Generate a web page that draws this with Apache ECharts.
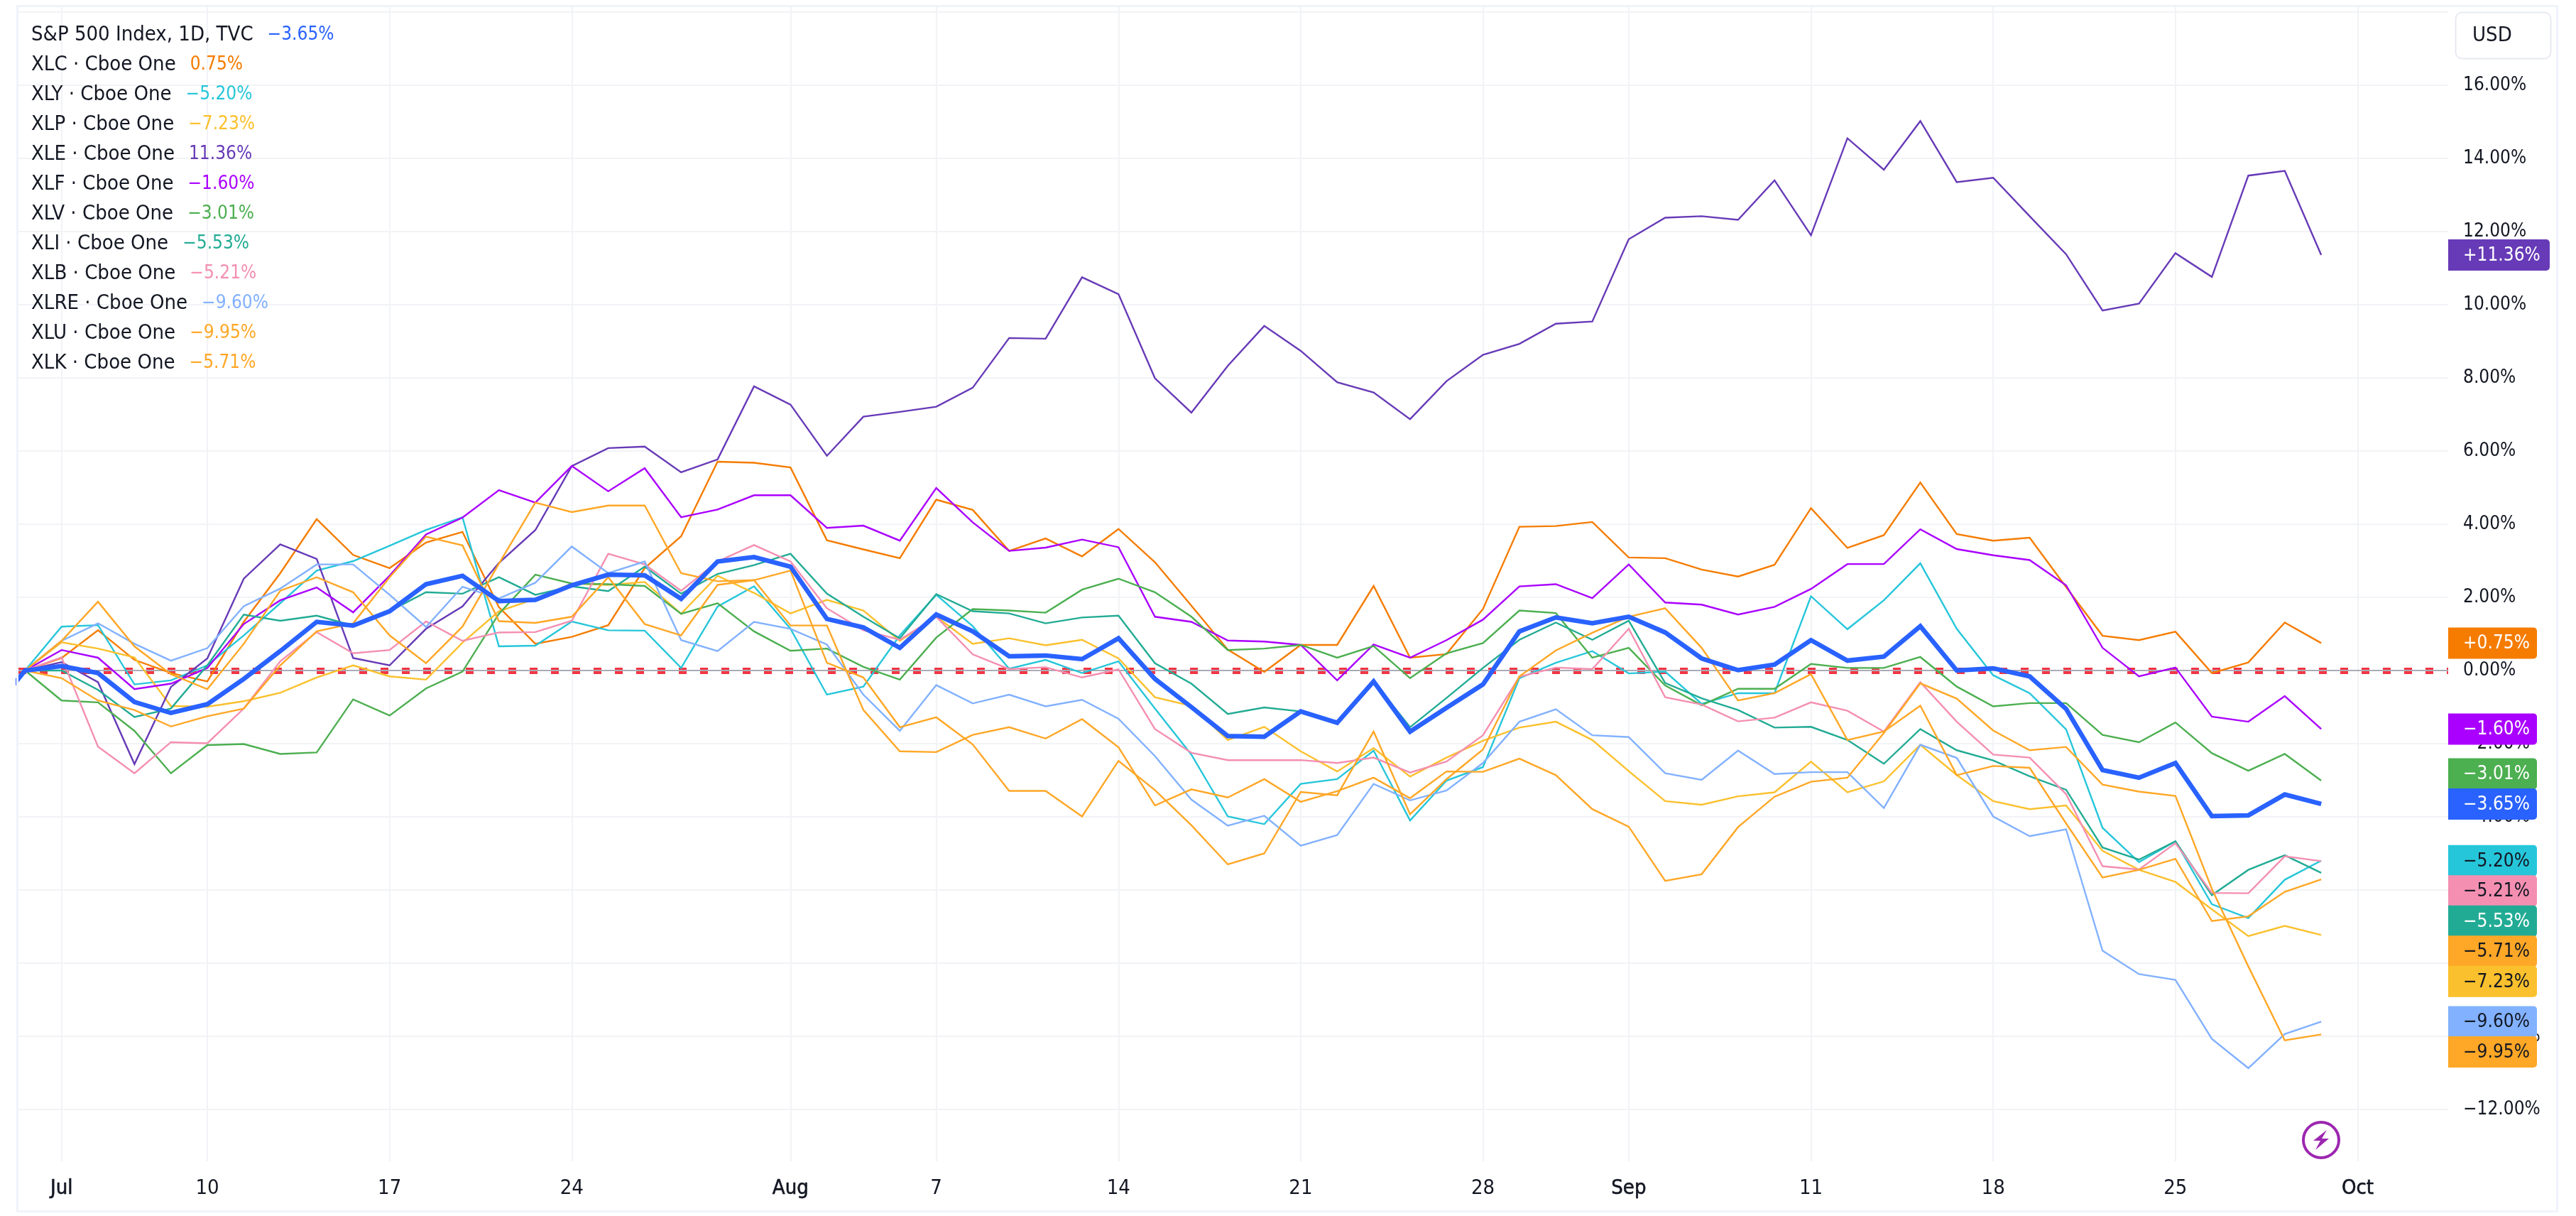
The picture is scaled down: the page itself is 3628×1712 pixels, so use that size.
<!DOCTYPE html>
<html>
<head>
<meta charset="utf-8">
<title>S&amp;P 500 and sector ETFs</title>
<style>html,body{margin:0;padding:0;background:#fff}#c{width:3628px;height:1712px}</style>
<script src="https://cdn.jsdelivr.net/npm/echarts@6/dist/echarts.min.js"></script>
</head>
<body>
<div id="c"></div>
<script>
const FONT = '"DejaVu Sans Condensed", "DejaVu Sans", sans-serif';

// Trading days; index in this list is the position on the x axis.
const tradingDays = ['Jun 29','Jun 30','Jul 3','Jul 5','Jul 6','Jul 7',
 'Jul 10','Jul 11','Jul 12','Jul 13','Jul 14','Jul 17','Jul 18','Jul 19','Jul 20','Jul 21',
 'Jul 24','Jul 25','Jul 26','Jul 27','Jul 28','Jul 31','Aug 1','Aug 2','Aug 3','Aug 4',
 'Aug 7','Aug 8','Aug 9','Aug 10','Aug 11','Aug 14','Aug 15','Aug 16','Aug 17','Aug 18',
 'Aug 21','Aug 22','Aug 23','Aug 24','Aug 25','Aug 28','Aug 29','Aug 30','Aug 31','Sep 1',
 'Sep 5','Sep 6','Sep 7','Sep 8','Sep 11','Sep 12','Sep 13','Sep 14','Sep 15',
 'Sep 18','Sep 19','Sep 20','Sep 21','Sep 22','Sep 25','Sep 26','Sep 27','Sep 28','Sep 29','Oct 2'];
const tickDates  = ['Jul 3','Jul 10','Jul 17','Jul 24','Aug 1','Aug 7','Aug 14','Aug 21','Aug 28','Sep 1','Sep 11','Sep 18','Sep 25','Oct 2'];
const tickLabels = ['Jul','10','17','24','Aug','7','14','21','28','Sep','11','18','25','Oct'];
const yGrid = [18,16,14,12,10,8,6,4,2,0,-2,-4,-6,-8,-10,-12];
const yTicks = [16,14,12,10,8,6,4,2,0,-2,-4,-6,-8,-10,-12];

// Percent change from Jun 30 (S&P also has Jun 29, just left of the visible range).
const spx = [-1.22,0,.12,-.07,-.86,-1.16,-.92,-.23,.53,1.33,1.23,1.62,2.36,2.59,1.90,1.93,2.33,2.62,2.60,1.96,2.98,3.10,2.84,1.41,1.18,.62,1.53,1.07,.39,.41,.31,.88,-.23,-1.0,-1.79,-1.81,-1.12,-1.43,-.30,-1.67,-1.02,-.38,1.07,1.45,1.29,1.47,1.04,.33,.01,.16,.83,.27,.38,1.21,0,.06,-.16,-1.05,-2.72,-2.93,-2.53,-3.98,-3.96,-3.39,-3.65];
const xlc = [0,.34,1.10,.29,-.07,-.30,1.33,2.66,4.14,3.16,2.80,3.50,3.79,1.73,.73,.92,1.24,2.80,3.67,5.71,5.68,5.55,3.56,3.31,3.07,4.67,4.39,3.27,3.61,3.12,3.87,2.96,1.77,.57,-.04,.70,.70,2.31,.35,.45,1.68,3.93,3.95,4.06,3.09,3.07,2.76,2.57,2.89,4.44,3.35,3.70,5.14,3.73,3.55,3.63,2.28,.95,.83,1.06,-.07,.22,1.31,.75];
const xly = [0,1.20,1.24,-.38,-.27,.14,.96,1.84,2.73,2.99,3.41,3.84,4.19,.66,.68,1.34,1.10,1.09,.07,1.75,2.30,1.14,-.66,-.44,.96,2.07,1.21,.05,.29,-.07,.25,-1.04,-2.30,-3.99,-4.20,-3.10,-2.97,-2.19,-4.10,-3.01,-2.64,-.21,.21,.53,-.08,-.03,-.91,-.62,-.62,2.03,1.13,1.92,2.93,1.14,-.13,-.62,-1.61,-4.30,-5.24,-4.67,-6.39,-6.77,-5.72,-5.20];
const xlp = [0,.77,.60,.36,-.97,-.99,-.84,-.61,-.19,.14,-.16,-.25,.76,1.62,1.96,2.38,2.34,2.42,1.55,2.59,2.12,1.56,1.93,1.64,.81,1.47,.73,.88,.69,.84,.33,-.73,-.97,-1.90,-1.54,-2.21,-2.76,-2.12,-2.90,-2.38,-1.92,-1.56,-1.40,-1.90,-2.75,-3.57,-3.67,-3.44,-3.33,-2.49,-3.33,-3.03,-2.03,-2.86,-3.57,-3.79,-3.69,-4.93,-5.45,-5.78,-6.53,-7.26,-6.98,-7.23];
const xle = [0,.23,-.32,-2.56,-.45,.33,2.51,3.45,3.05,.34,.14,1.14,1.75,2.94,3.84,5.59,6.08,6.12,5.42,5.77,7.77,7.27,5.87,6.94,7.07,7.21,7.73,9.09,9.07,10.75,10.29,7.99,7.05,8.33,9.42,8.74,7.88,7.60,6.87,7.91,8.63,8.93,9.48,9.54,11.79,12.38,12.42,12.32,13.40,11.90,14.55,13.69,15.02,13.35,13.47,12.42,11.38,9.84,10.03,11.41,10.76,13.53,13.66,11.36];
const xlf = [0,.56,.35,-.51,-.36,.07,1.27,1.92,2.27,1.59,2.59,3.72,4.18,4.93,4.59,5.59,4.90,5.53,4.19,4.40,4.79,4.79,3.90,3.96,3.55,4.99,4.05,3.27,3.36,3.58,3.37,1.47,1.33,.82,.79,.70,-.27,.71,.35,.83,1.39,2.30,2.36,1.98,2.90,1.86,1.80,1.53,1.74,2.23,2.91,2.91,3.86,3.32,3.15,3.02,2.33,.62,-.16,.08,-1.26,-1.40,-.70,-1.60];
const xlv = [0,-.82,-.87,-1.65,-2.81,-2.04,-2.01,-2.28,-2.24,-.79,-1.23,-.49,-.03,1.55,2.62,2.38,2.36,2.31,1.55,1.84,1.07,.54,.60,.10,-.25,.90,1.68,1.64,1.58,2.21,2.51,2.14,1.47,.56,.60,.70,.35,.67,-.21,.47,.75,1.64,1.57,.35,.62,-.41,-.95,-.50,-.50,.18,.07,.07,.37,-.44,-.98,-.89,-.89,-1.76,-1.96,-1.42,-2.26,-2.74,-2.28,-3.01];
const xli = [0,0,-.53,-1.27,-1.04,.14,1.53,1.36,1.50,1.23,1.62,2.14,2.10,2.55,2.07,2.30,2.17,2.84,2.10,2.64,2.88,3.19,2.10,1.47,.88,2.09,1.62,1.56,1.29,1.45,1.50,.20,-.36,-1.19,-1.01,-1.12,-1.43,-.30,-1.55,-.75,.07,.84,1.31,.84,1.36,-.34,-.76,-1.08,-1.56,-1.54,-1.90,-2.55,-1.60,-2.18,-2.46,-2.89,-3.26,-4.84,-5.17,-4.67,-6.14,-5.45,-5.05,-5.53];
const xlb = [0,.36,-2.08,-2.81,-1.96,-1.99,-1.04,.25,1.05,.47,.56,1.34,.81,1.04,1.05,1.36,3.19,2.90,2.18,2.98,3.43,2.98,1.70,1.10,.84,1.47,.44,.04,.09,-.19,.03,-1.60,-2.25,-2.45,-2.45,-2.45,-2.53,-2.38,-2.79,-2.49,-1.77,-.17,.08,.04,1.14,-.73,-.93,-1.39,-1.29,-.87,-1.10,-1.67,-.32,-1.40,-2.30,-2.38,-3.38,-5.35,-5.44,-4.72,-6.08,-6.09,-5.08,-5.21];
const xlre = [0,.81,1.29,.73,.27,.61,1.76,2.24,2.90,2.90,2.07,1.19,2.29,1.97,2.40,3.39,2.66,2.98,.83,.53,1.33,1.14,.71,-.66,-1.65,-.40,-.90,-.66,-.98,-.80,-1.32,-2.34,-3.53,-4.24,-3.97,-4.79,-4.50,-3.10,-3.55,-3.28,-2.53,-1.40,-1.06,-1.77,-1.82,-2.81,-2.99,-2.19,-2.83,-2.78,-2.78,-3.76,-2.03,-2.39,-3.99,-4.53,-4.34,-7.66,-8.30,-8.46,-10.07,-10.87,-9.94,-9.60];
const xlu = [0,.81,1.88,.66,-.10,-.51,.73,2.18,2.55,2.14,.96,.20,1.20,2.92,4.59,4.33,4.51,4.51,2.66,2.44,2.47,1.23,1.23,-1.08,-2.21,-2.23,-1.76,-1.55,-1.86,-1.33,-2.10,-3.69,-3.25,-3.47,-2.97,-3.59,-3.30,-2.93,-3.49,-2.76,-2.77,-2.41,-2.86,-3.79,-4.27,-5.75,-5.57,-4.28,-3.45,-3.04,-2.93,-1.71,-.35,-.77,-1.64,-2.18,-2.09,-3.12,-3.31,-3.43,-5.97,-8.09,-10.11,-9.95];
const xlk = [0,-.21,-.82,-1.08,-1.53,-1.25,-1.04,.14,1.07,1.29,2.55,3.66,3.42,1.35,1.30,1.47,2.55,1.27,.96,2.34,2.47,2.73,.21,-.19,-1.55,-1.28,-2.02,-3.29,-3.29,-3.99,-2.47,-3.27,-4.23,-5.30,-5.00,-3.32,-3.41,-1.67,-3.93,-2.97,-2.16,-.16,.55,1.03,1.47,1.70,.62,-.82,-.62,-.10,-1.90,-1.67,-.96,-2.86,-2.61,-2.66,-4.18,-5.66,-5.45,-5.15,-6.85,-6.72,-6.05,-5.71];

const names = ['XLC · Cboe One','XLY · Cboe One','XLP · Cboe One','XLE · Cboe One','XLF · Cboe One','XLV · Cboe One','XLI · Cboe One','XLB · Cboe One','XLRE · Cboe One','XLU · Cboe One','XLK · Cboe One'];
const sectorValues = [xlc,xly,xlp,xle,xlf,xlv,xli,xlb,xlre,xlu,xlk];
const sectorColors = ['#F57C00','#26C6DA','#FBC02D','#673AB7','#AA00FF','#4CAF50','#22AB94','#F48FB1','#82B1FF','#FFA726','#FFA726'];
const sectorLast = [0.75,-5.20,-7.23,11.36,-1.60,-3.01,-5.53,-5.21,-9.60,-9.95,-5.71];
const sectorTagText = ['#FFFFFF','#131722','#131722','#FFFFFF','#FFFFFF','#FFFFFF','#FFFFFF','#131722','#131722','#131722','#131722'];
const spxName = 'S&P 500 Index, 1D, TVC', spxColor = '#2962FF', spxLast = -3.65;

const NUM = 26, NAME = 29;
const minus = s => s.replace('-', '\u2212');
const pct = v => minus(v.toFixed(2)) + '%';
const signed = v => (v > 0 ? '+' : '') + pct(v);

const chart = echarts.init(document.getElementById('c'));
const dayIdx = d => tradingDays.indexOf(d);
const allNames = [spxName].concat(names);
const allColors = [spxColor].concat(sectorColors);
const allLast = [spxLast].concat(sectorLast);

const rich = { n: { fontFamily: FONT, fontSize: NAME, color: '#131722', lineHeight: 32 } };
allColors.forEach((c, i) => {
  rich['v' + i] = { fontFamily: FONT, fontSize: NUM, color: c, lineHeight: 32, padding: [0, 0, 0, 20] };
});

const series = [{
  name: 'zero', type: 'line', data: [], silent: true,
  markLine: {
    silent: true, symbol: 'none', z: 1, animation: false, label: { show: false },
    data: [
      { yAxis: 0, lineStyle: { color: '#F23645', width: 9, type: [11, 19], cap: 'butt' } },
      { yAxis: 0, lineStyle: { color: '#A9ACB7', width: 2, type: 'solid' } }
    ]
  }
}];
names.forEach((n, i) => series.push({
  name: n, type: 'line', showSymbol: false, clip: true, z: 2, silent: true,
  lineStyle: { color: sectorColors[i], width: 2.4, join: 'miter' },
  itemStyle: { color: sectorColors[i] },
  data: sectorValues[i].map((v, k) => [k + 1, v])
}));
series.push({
  name: spxName, type: 'line', showSymbol: false, clip: true, z: 3, silent: true,
  lineStyle: { color: spxColor, width: 6.5, join: 'miter' },
  itemStyle: { color: spxColor },
  data: spx.map((v, k) => [k, v])
});

const L = 26, R = 3448, T = 8, B = 1635;
chart.setOption({
  animation: false,
  backgroundColor: '#FFFFFF',
  textStyle: { fontFamily: FONT },
  grid: { left: L, top: T, width: R - L, height: B - T, containLabel: false },
  legend: {
    data: allNames, orient: 'vertical', left: 33, top: 28, itemGap: 10,
    itemWidth: 0, itemHeight: 0, selectedMode: false,
    itemStyle: { opacity: 0 }, lineStyle: { opacity: 0 },
    formatter: name => {
      const i = allNames.indexOf(name);
      return '{n|' + name + '}{v' + i + '|' + pct(allLast[i]) + '}';
    },
    textStyle: { rich, fontFamily: FONT, fontSize: NAME, color: '#131722', lineHeight: 32 }
  },
  xAxis: {
    type: 'value', min: (L - 86.7) / 51.33 + 2, max: (R - 86.7) / 51.33 + 2,
    axisLine: { show: false },
    axisTick: { show: false, customValues: tickDates.map(dayIdx) },
    axisLabel: {
      customValues: tickDates.map(dayIdx), margin: 24, hideOverlap: false,
      formatter: v => {
        const t = tickLabels[tickDates.indexOf(tradingDays[Math.round(v)])];
        return /^[A-Z]/.test(t) ? '{m|' + t + '}' : t;
      },
      color: '#131722', fontFamily: FONT, fontSize: NAME,
      rich: { m: { fontFamily: FONT, fontSize: NAME, color: '#131722', textBorderColor: '#131722', textBorderWidth: 0.6 } }
    },
    splitLine: { show: true, lineStyle: { color: '#F2F3F6', width: 2 } }
  },
  yAxis: {
    type: 'value', position: 'right', min: (944 - B) / 51.5, max: (944 - T) / 51.5,
    axisLine: { show: false },
    axisTick: { show: false, customValues: yGrid },
    axisLabel: {
      customValues: yTicks, margin: 21, hideOverlap: false, padding: [4, 0, 0, 0],
      formatter: v => pct(v), color: '#131722', fontFamily: FONT, fontSize: NUM
    },
    splitLine: { show: true, lineStyle: { color: '#F2F3F6', width: 2 } }
  },
  series
});

// Value tags on the price scale: the S&P tag sits at its value, the others are pushed clear of it.
const tagH = 44, step = 42.5;
const toY = v => chart.convertToPixel({ yAxisIndex: 0 }, v);
const tags = allLast.map((v, i) => ({ v, i, y: toY(v) }));
const anchor = tags[0];
const above = tags.filter(t => t.v > anchor.v).sort((a, b) => a.v - b.v);
const below = tags.filter(t => t.v < anchor.v).sort((a, b) => b.v - a.v);
let prev = anchor.y;
above.forEach(t => { t.y = Math.min(t.y, prev - step); prev = t.y; });
prev = anchor.y;
below.forEach(t => { t.y = Math.max(t.y, prev + step); prev = t.y; });

const graphics = [];
graphics.push({ type: 'rect', silent: true, z: 50, shape: { x: 24.5, y: 8.5, width: 3577, height: 1697 },
  style: { fill: 'none', stroke: '#F0F3FA', lineWidth: 3 } });
// draw order: S&P on top
[...below, ...above, anchor].forEach(t => {
  const txt = signed(t.v);
  const w = txt.length > 6 ? 143 : 125;
  const textColor = t.i === 0 ? '#FFFFFF' : sectorTagText[t.i - 1];
  graphics.push({ type: 'rect', silent: true, z: 100, shape: { x: R, y: t.y - tagH / 2, width: w, height: tagH, r: [0, 5, 5, 0] },
    style: { fill: allColors[t.i] } });
  graphics.push({ type: 'text', silent: true, z: 101, x: R + 21, y: t.y + 1,
    style: { text: txt, fontFamily: FONT, fontSize: NUM, fill: textColor, verticalAlign: 'middle', align: 'left' } });
});
// currency button
graphics.push({ type: 'rect', silent: true, z: 100, shape: { x: 3458.5, y: 17.5, width: 134, height: 65, r: 9 },
  style: { fill: '#FFFFFF', stroke: '#E8EAF2', lineWidth: 2 } });
graphics.push({ type: 'text', silent: true, z: 101, x: 3482, y: 50,
  style: { text: 'USD', fontFamily: FONT, fontSize: NAME, fill: '#131722', verticalAlign: 'middle', align: 'left' } });
// dividend/flash badge
graphics.push({ type: 'circle', silent: true, z: 100, shape: { cx: 3269, cy: 1605, r: 25 },
  style: { fill: '#FFFFFF', stroke: '#9C27B0', lineWidth: 4 } });
graphics.push({ type: 'polygon', silent: true, z: 101, x: 3269, y: 1605,
  shape: { points: [[8, -14], [-11, 1], [-1, 1], [-8, 14], [11, -2], [1, -2]] },
  style: { fill: '#9C27B0' } });
chart.setOption({ graphic: graphics });
</script>
</body>
</html>
